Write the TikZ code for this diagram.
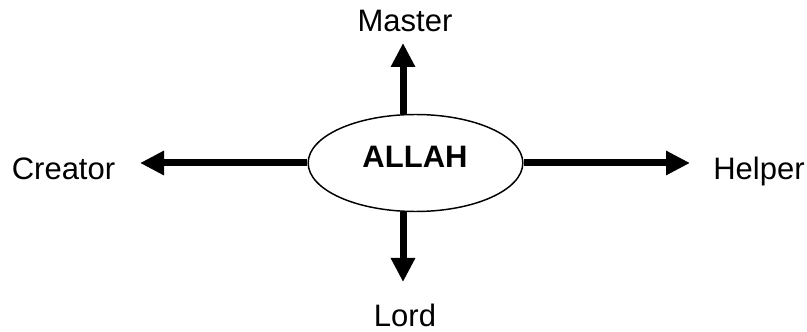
\documentclass[tikz,border=0pt]{standalone}
\usepackage{fontspec}
\setmainfont{Liberation Sans}
\usetikzlibrary{arrows.meta,shapes.geometric}

\tikzset{
    word/.style={font=\fontsize{23.25}{28}\selectfont, inner sep=0pt},
    spoke/.style={line width=5.25pt, -{Triangle[width=17.25pt, length=18pt]}},
}

\begin{document}
\begin{tikzpicture}[x=0.75pt, y=0.75pt]
    \useasboundingbox (0,0) rectangle (807,332);
    % centre
    \node[ellipse, draw, line width=1.1pt, minimum width=161pt, minimum height=72.75pt,
          inner sep=0pt] (god) at (415.5,169) {};
    \node[word, font=\fontsize{23.25}{28}\selectfont\bfseries, anchor=base] (allah) at (415,164) {ALLAH};
    % the four names
    \node[word, anchor=base] (master) at (405,300) {Master};
    \node[word, anchor=base] (lord) at (405,5) {Lord};
    \node[word, anchor=base] (creator) at (63.5,152) {Creator};
    \node[word, anchor=base] (helper) at (759,152) {Helper};
    % arrow tips
    \coordinate (mtip) at (403,289);
    \coordinate (ltip) at (403,50);
    \coordinate (ctip) at (140,169);
    \coordinate (htip) at (690,169);
    \draw[spoke] (god.north -| mtip) -- (mtip);
    \draw[spoke] (god.south -| ltip) -- (ltip);
    \draw[spoke] (god.west) -- (ctip);
    \draw[spoke] (god.east) -- (htip);
\end{tikzpicture}
\end{document}
